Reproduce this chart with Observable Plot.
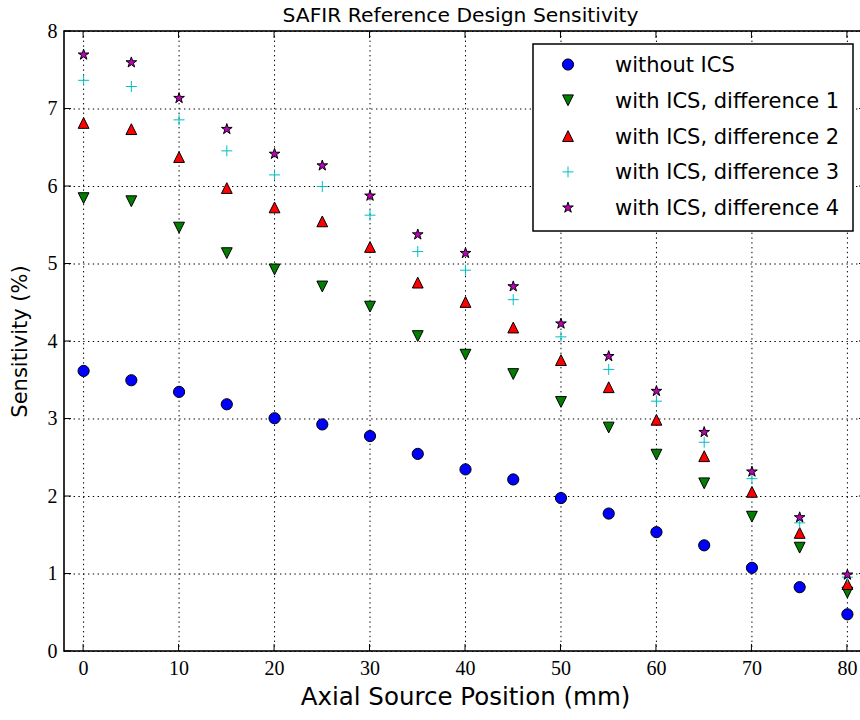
<!DOCTYPE html>
<html><head><meta charset="utf-8">
<script src="https://cdn.jsdelivr.net/npm/d3@7"></script>
<script src="https://cdn.jsdelivr.net/npm/@observablehq/plot@0.6"></script>
<style>
html,body{margin:0;padding:0;background:#fff;overflow:hidden}
#wrap{width:860px;height:720px;overflow:hidden;position:relative}
#wrap svg{max-width:none !important}
</style></head><body><div id="wrap"></div>
<script>
// ---- data ----
const positions = [0,5,10,15,20,25,30,35,40,45,50,55,60,65,70,75,80];
const withoutICS = [3.62,3.50,3.35,3.19,3.01,2.93,2.78,2.55,2.35,2.22,1.98,1.78,1.54,1.37,1.08,0.83,0.48];
const diff1 = [5.85,5.81,5.47,5.14,4.93,4.71,4.45,4.07,3.83,3.58,3.22,2.89,2.54,2.17,1.74,1.34,0.76];
const diff2 = [6.82,6.74,6.38,5.98,5.73,5.55,5.22,4.76,4.51,4.18,3.76,3.41,2.99,2.52,2.06,1.53,0.87];
const diff3 = [7.37,7.29,6.86,6.46,6.15,6.00,5.63,5.16,4.92,4.54,4.06,3.64,3.23,2.70,2.23,1.66,0.96];
const diff4 = [7.70,7.60,7.14,6.74,6.42,6.27,5.88,5.38,5.14,4.71,4.23,3.81,3.36,2.83,2.32,1.73,0.99];
const seriesNames = ["without ICS","with ICS, difference 1","with ICS, difference 2","with ICS, difference 3","with ICS, difference 4"];
const xTicks = [0,10,20,30,40,50,60,70,80];
const yTicks = [0,1,2,3,4,5,6,7,8];
const titleText = "SAFIR Reference Design Sensitivity";
const xLabel = "Axial Source Position (mm)";
const yLabel = "Sensitivity (%)";

// ---- custom marker shapes (size = PI*r^2) ----
const rOf = size => Math.sqrt(size/Math.PI);
const triUp = {draw(c,s){const r=rOf(s);c.moveTo(0,-r);c.lineTo(-r,r);c.lineTo(r,r);c.closePath();}};
const triDown = {draw(c,s){const r=rOf(s);c.moveTo(0,r);c.lineTo(-r,-r);c.lineTo(r,-r);c.closePath();}};
const plusSym = {draw(c,s){const r=rOf(s);c.moveTo(-r,0);c.lineTo(r,0);c.moveTo(0,-r);c.lineTo(0,r);}};
const starSym = {draw(c,s){const R=rOf(s),ri=R*0.381966;for(let k=0;k<10;k++){const a=-Math.PI/2+k*Math.PI/5,rr=k%2?ri:R;const px=rr*Math.cos(a),py=rr*Math.sin(a);k?c.lineTo(px,py):c.moveTo(px,py);}c.closePath();}};

const styles = [
  {values: withoutICS, symbol: d3.symbolCircle, fill:"#0000ff", stroke:"#000", r:5.6},
  {values: diff1, symbol: triDown, fill:"#007f00", stroke:"#000", r:5.4},
  {values: diff2, symbol: triUp, fill:"#ff0000", stroke:"#000", r:5.4},
  {values: diff3, symbol: plusSym, fill:"none", stroke:"#00bfbf", r:5.5},
  {values: diff4, symbol: starSym, fill:"#bf00bf", stroke:"#000", r:5.6}
];
const series = styles.map((s,i)=>({...s, name: seriesNames[i],
  data: positions.map((p,j)=>({x:p, y:s.values[j]}))}));

const SANS = "'DejaVu Sans', sans-serif";
const SERIF = "'Liberation Serif', 'DejaVu Serif', serif";

function frameAndTicks(index, scales, values, dims) {
  const {x, y} = scales;
  const L = dims.marginLeft, R = dims.width - dims.marginRight, T = dims.marginTop, B = dims.height - dims.marginBottom;
  const g = d3.create("svg:g").attr("stroke","#000").attr("fill","none");
  const tl = 7;
  for (const t of xTicks) {
    const px = x(t);
    g.append("line").attr("x1",px).attr("x2",px).attr("y1",B).attr("y2",B-tl);
    g.append("line").attr("x1",px).attr("x2",px).attr("y1",T).attr("y2",T+tl);
  }
  for (const t of yTicks) {
    const py = y(t);
    g.append("line").attr("x1",L).attr("x2",L+tl).attr("y1",py).attr("y2",py);
    g.append("line").attr("x1",R).attr("x2",R-tl).attr("y1",py).attr("y2",py);
  }
  g.append("rect").attr("x",L).attr("y",T).attr("width",R-L).attr("height",B-T).attr("stroke-width",1.6);
  return g.node();
}

function legendMark(index, scales, values, dims) {
  const R = dims.width - dims.marginRight, T = dims.marginTop;
  const bw = 320, bh = 187, pad = 13;
  const bx = R - pad - bw, by = T + pad;
  const g = d3.create("svg:g");
  g.append("rect").attr("x",bx).attr("y",by).attr("width",bw).attr("height",bh)
    .attr("fill","#fff").attr("stroke","#000").attr("stroke-width",1.5);
  series.forEach((s,i) => {
    const cy = by + 20.5 + i*35.8;
    g.append("path").attr("transform",`translate(${bx+35},${cy})`)
      .attr("d", d3.symbol(s.symbol, Math.PI*s.r*s.r)())
      .attr("fill", s.fill).attr("stroke", s.stroke).attr("stroke-width",1);
    g.append("text").attr("x", bx+82).attr("y", cy).attr("dy","0.36em")
      .attr("text-anchor","start")
      .attr("font-family", SANS).attr("font-size", 21).attr("fill","#000").text(s.name);
  });
  return g.node();
}

const chart = Plot.plot({
  width: 866, height: 720,
  marginLeft: 64, marginRight: 0, marginTop: 31, marginBottom: 69,
  style: {fontFamily: SERIF, fontSize: "20px", color: "#000", background: "#fff", overflow: "visible", maxWidth: "none"},
  x: {domain: [-2, 82], label: null},
  y: {domain: [0, 8], label: null},
  marks: [
    Plot.gridX(xTicks, {stroke: "#000", strokeOpacity: 1, strokeWidth: 1, strokeDasharray: "1.4,3.4"}),
    Plot.gridY(yTicks, {stroke: "#000", strokeOpacity: 1, strokeWidth: 1, strokeDasharray: "1.4,3.4"}),
    Plot.axisX({ticks: xTicks, tickSize: 0, tickPadding: 9, label: null}),
    Plot.axisY({ticks: yTicks, tickSize: 0, tickPadding: 7, label: null}),
    ...series.map(s => Plot.dot(s.data, {x: "x", y: "y", symbol: s.symbol, r: s.r,
      fill: s.fill, stroke: s.stroke, strokeWidth: 1})),
    frameAndTicks,
    legendMark,
    Plot.text([titleText], {frameAnchor: "top", dy: -16, dx: -5, textAnchor: "middle", fontFamily: SANS, fontSize: 20.3, fill: "#000", lineAnchor: "middle"}),
    Plot.text([yLabel], {frameAnchor: "left", dx: -44, rotate: -90, textAnchor: "middle", fontFamily: SANS, fontSize: 21, fill: "#000", lineAnchor: "middle"}),
    Plot.text([xLabel], {frameAnchor: "bottom", dy: 46, textAnchor: "middle", fontFamily: SANS, fontSize: 24.5, fill: "#000", lineAnchor: "middle", ariaLabel: "xlabel"})
  ]
});
chart.style.maxWidth = "none";
document.getElementById("wrap").appendChild(chart);
// render "mm" in a roman math-like face
const xl = chart.querySelector('g[aria-label="xlabel"] text');
if (xl) {
  xl.textContent = "";
  const parts = [["Axial Source Position (", null], ["mm", SERIF], [")", null]];
  for (const [t, f] of parts) {
    const ts = document.createElementNS("http://www.w3.org/2000/svg", "tspan");
    if (f) ts.setAttribute("font-family", f);
    ts.textContent = t;
    xl.appendChild(ts);
  }
}
</script></body></html>
